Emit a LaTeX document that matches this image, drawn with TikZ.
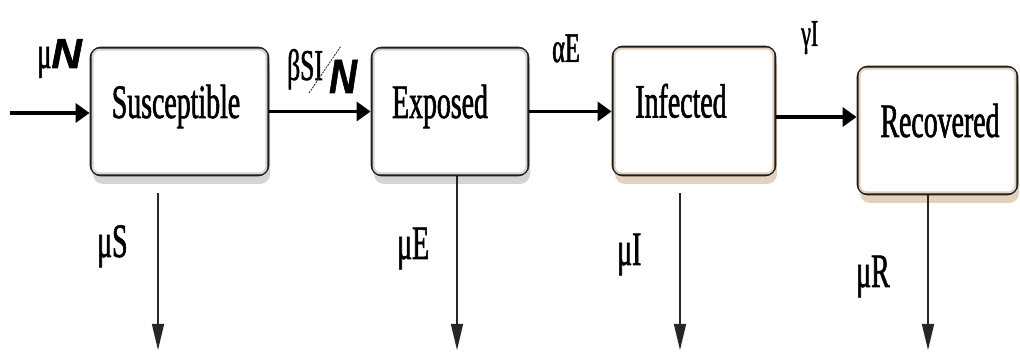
\documentclass[tikz,border=0pt]{standalone}
\usepackage{fontspec}
\setmainfont{Liberation Serif}
\newfontfamily\cond[FakeStretch=0.58, FakeBold=1.2]{Liberation Serif}
\newfontfamily\heavyN[FakeBold=1.5]{Liberation Sans}
\usetikzlibrary{arrows.meta,shadows}
\definecolor{boxline}{HTML}{1E1E1E}
\definecolor{greyshade}{HTML}{D4D4D4}
\definecolor{beigeshade}{HTML}{E3D0BD}
\newcommand{\bigN}{{\heavyN\bfseries\itshape N}}
\tikzset{
  x=1pt, y=-1pt,
  compartment/.style={draw=boxline, line width=2.8pt, rounded corners=10pt,
    fill=white, inner sep=0pt, text height=32pt, text depth=19pt,
    font=\cond\fontsize{48}{52}\selectfont, text=black},
  greybox/.style={compartment, drop shadow={shadow xshift=2pt, shadow yshift=-9pt, fill=greyshade, opacity=1}},
  beigebox/.style={compartment, drop shadow={shadow xshift=2pt, shadow yshift=-9pt, fill=beigeshade, opacity=1}},
  bevel/.style={line width=2pt, rounded corners=7pt},
  rate/.style={anchor=base west, inner sep=0pt, font=\cond\fontsize{48}{52}\selectfont},
  flow/.style={draw=black, line width=3.5pt, -{Triangle[length=14pt,width=19pt]}},
  loss/.style={draw=black!85, line width=1.5pt, -{Triangle[length=26pt,width=12pt]}}
}
\begin{document}
\begin{tikzpicture}
\useasboundingbox (0,0) rectangle (1020,352);

% compartments
\node[greybox, minimum width=177pt, minimum height=127pt] (S) at (179.5,111.5) {\hspace*{-7pt}Susceptible};
\node[greybox, minimum width=156pt, minimum height=127pt] (E) at (450,111.5) {\hspace*{-20pt}Exposed};
\node[beigebox, minimum width=162pt, minimum height=128pt] (I) at (694,111) {\hspace*{-26pt}Infected};
\node[beigebox, minimum width=159pt, minimum height=127pt] (R) at (937.5,130.5) {\hspace*{5pt}Recovered};

% inner bevel lines
\draw[bevel, greyshade] ([shift={(3,3)}]S.north west) rectangle ([shift={(-3,-3)}]S.south east);
\draw[bevel, greyshade] ([shift={(3,3)}]E.north west) rectangle ([shift={(-3,-3)}]E.south east);
\draw[bevel, beigeshade] ([shift={(3,3)}]I.north west) rectangle ([shift={(-3,-3)}]I.south east);
\draw[bevel, beigeshade] ([shift={(3,3)}]R.north west) rectangle ([shift={(-3,-3)}]R.south east);

% free ends
\coordinate (birth) at (10,113);
\coordinate (dS) at (158,350);
\coordinate (dE) at (457,350);
\coordinate (dI) at (680,350);
\coordinate (dR) at (928,350);

% transitions
\draw[flow] (birth) -- (birth -| S.west);
\draw[flow] (S.east) -- (S.east -| E.west);
\draw[flow] (E.east) -- (E.east -| I.west);
\draw[flow] ([yshift=-6pt]I.east) -- ([yshift=-6pt]I.east -| R.west);

% deaths
\draw[loss] ([shift={(-21.5pt,-17pt)}]S.south) -- (dS);
\draw[loss] ([xshift=7pt]S.south -| E.south) -- (dE);
\draw[loss] ([shift={(-14pt,-17pt)}]I.south) -- (dI);
\draw[loss] ([xshift=-9.5pt]R.south) -- (dR);

% rate labels
\node[rate, font=\cond\fontsize{46}{50}\selectfont] (lN) at (37,68) {μ\fontsize{42}{46}\selectfont\bigN};
\node[rate, font=\cond\fontsize{44}{48}\selectfont] (lB) at (287,80) {βSI};
\draw[black!80, line width=0.9pt, dash pattern=on 2pt off 1pt] (309,93) -- (341,46);
\node[rate, font=\fontsize{48}{52}\selectfont] (lBN) at (329,93) {\scalebox{0.8}[1]{\bigN}};
\node[rate, font=\cond\fontsize{42}{46}\selectfont] (lA) at (552,62) {αE};
\node[rate, font=\cond\fontsize{38}{42}\selectfont] (lG) at (801,46) {γI};
\node[rate] (lS) at (97,257) {μS};
\node[rate] (lE) at (397,259) {μE};
\node[rate] (lI) at (617,265) {μI};
\node[rate] (lR) at (856,287) {μR};
\end{tikzpicture}
\end{document}
